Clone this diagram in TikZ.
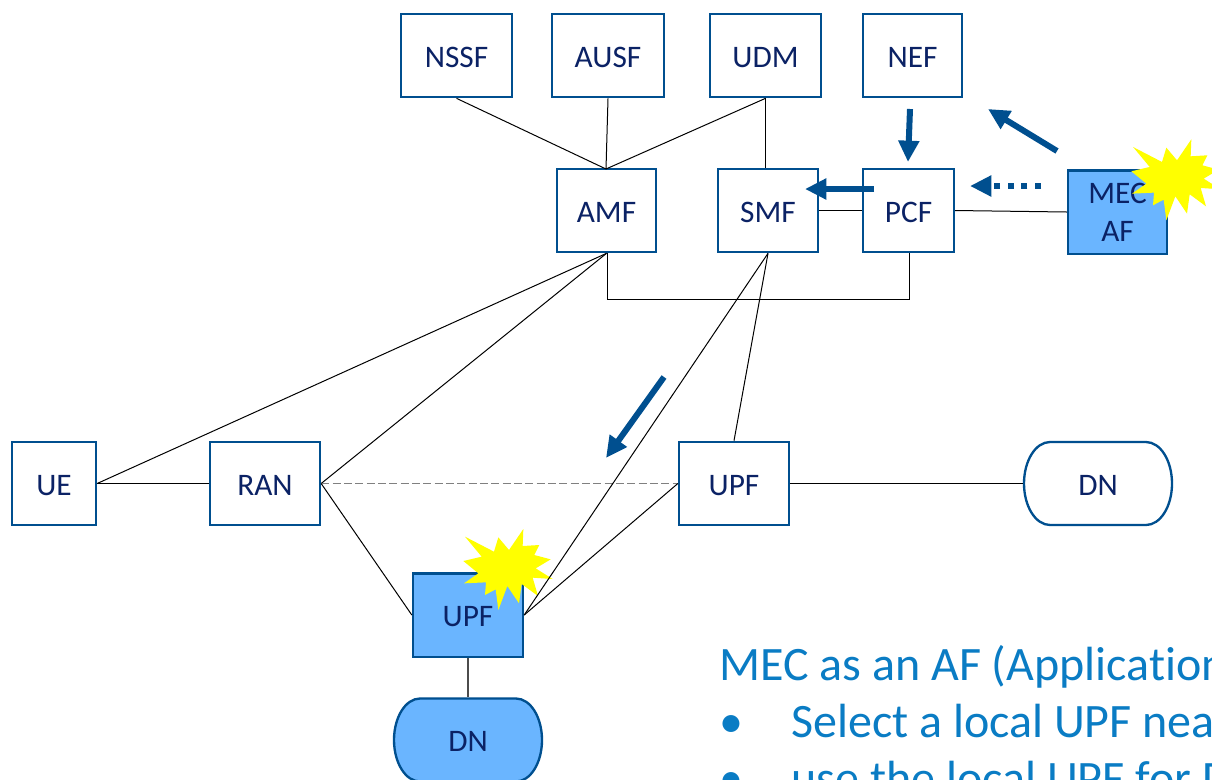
\documentclass[tikz,border=0pt]{standalone}
\usepackage{fontspec}
\setmainfont[Ligatures=NoCommon]{Carlito}
\usetikzlibrary{arrows.meta}
\definecolor{boxline}{HTML}{004F8F}
\definecolor{labeltxt}{HTML}{0B2265}
\definecolor{mecfill}{HTML}{6AB5FF}
\definecolor{notetxt}{HTML}{0A7CC4}
\definecolor{burstyellow}{HTML}{FFFF00}
\tikzset{
  nf/.style={draw=boxline,line width=1.75pt,fill=white,text=labeltxt,font=\fontsize{23.5}{28.5}\selectfont,inner sep=0pt,minimum height=62.5pt,align=center,text height=17.3pt,text depth=0pt},
  mecbox/.style={nf,fill=mecfill},
  dnlabel/.style={nf,draw=none,fill=none,minimum width=111pt},
  dnshape/.style={draw=boxline,line width=1.75pt},
  link/.style={draw=black,line width=0.75pt},
  flow/.style={draw=boxline,line width=4.5pt,-{Triangle[length=16pt,width=15pt]}},
  flowdot/.style={flow,dash pattern=on 4.5pt off 5.75pt},
  burst/.style={fill=burstyellow,draw=none},
  note/.style={text=notetxt,font=\fontsize{36}{42}\selectfont,anchor=base west,inner sep=0pt}
}
\newcommand{\burstshape}{(430,57)--(428,108)--(478,105)--(463,135)--(512,148)--(467,175)--(518,207)--(458,203)--(474,258)--(425,222)--(417,280)--(382,228)--(355,300)--(347,238)--(315,255)--(318,217)--(252,220)--(295,190)--(250,153)--(305,140)--(255,80)--(342,125)--(355,82)--(387,120)--cycle}
\newcommand{\terminator}[1]{++(-48,-41.5) -- ++(96,0) arc[start angle=90,end angle=-90,x radius=19.5pt,y radius=31.125pt] -- ++(-96,0) arc[start angle=-90,end angle=-270,x radius=19.5pt,y radius=31.125pt] -- cycle}
\begin{document}
\begin{tikzpicture}[x=0.75pt,y=-0.75pt]
\useasboundingbox (0,0) rectangle (1212,779);
\clip (0,0) rectangle (1212,779);
\node[nf,minimum width=83.25pt] (nssf) at (456.5,55.5) {NSSF};
\node[nf,minimum width=84pt] (ausf) at (608,55.5) {AUSF};
\node[nf,minimum width=83.25pt] (udm) at (765.5,55.5) {UDM};
\node[nf,minimum width=74.25pt] (nef) at (912.5,55.5) {NEF};
\node[nf,minimum width=74.25pt] (amf) at (606.5,210.5) {AMF};
\node[nf,minimum width=75pt] (smf) at (768,210.5) {SMF};
\node[nf,minimum width=68.25pt] (pcf) at (908.5,210.5) {PCF};
\node[mecbox,minimum width=74.25pt,text height=,text depth=] (mec) at (1117.5,212) {MEC\\AF};
\node[nf,minimum width=63pt] (ue) at (54,483.5) {UE};
\node[nf,minimum width=82.5pt] (ran) at (265,483.5) {RAN};
\node[nf,minimum width=82.5pt] (upf) at (734,483.5) {UPF};
\coordinate (dnc) at (1098,483.5);
\draw[dnshape,fill=white] (dnc) \terminator{};
\node[dnlabel] (dn) at (dnc) {DN};
\node[mecbox,minimum width=82.5pt] (lupf) at (468,615) {UPF};
\coordinate (ldnc) at (468,740);
\draw[dnshape,fill=mecfill] (ldnc) \terminator{};
\node[dnlabel] (ldn) at (ldnc) {DN};
\coordinate (hub) at (606,169);
\draw[link] (nssf.south) -- (hub);
\draw[link] (ausf.south) -- (hub);
\draw[link] (udm.south) -- (hub);
\draw[link] (udm.south) -- (smf.north -| udm.south);
\draw[link] (smf.east) -- (pcf.west);
\draw[link] (pcf.east) -- (mec.west);
\draw[link] (amf.south) ++(1,0) -- ++(0,46.5) -| ([xshift=0.75pt]pcf.south);
\draw[link] (amf.south) -- (ue.east);
\draw[link] (amf.south) -- (ran.east);
\draw[link] (smf.south) -- (upf.north);
\draw[link] (ue.east) -- (ran.west);
\draw[draw=gray,line width=0.75pt,dash pattern=on 6pt off 2.5pt] (ran.east) -- (upf.west);
\draw[link] (upf.east) -- (dn.west);
\draw[link] (ran.east) -- (lupf.west);
\draw[draw=black!70,line width=0.9pt] (lupf.south) -- (ldn.north);
\fill[burst,shift={(380,510)},x=0.25pt,y=-0.25pt] \burstshape;
\fill[burst,shift={(1048,120.3)},x=0.25pt,y=-0.25pt] \burstshape;
\draw[link] (upf.west) -- (lupf.east);
\draw[link] (smf.south) -- (lupf.east);
\coordinate (a1s) at (910,109); \coordinate (a1e) at (908,162);
\coordinate (a2s) at (1057,151); \coordinate (a2e) at (988,109);
\coordinate (a3s) at (1041,186); \coordinate (a3e) at (970,186);
\coordinate (a4s) at (874,189); \coordinate (a4e) at (805,189);
\coordinate (a5s) at (664,377); \coordinate (a5e) at (606,458);
\draw[flow] (a1s) -- (a1e);
\draw[flow] (a2s) -- (a2e);
\draw[flowdot] (a3s) -- (a3e);
\draw[flow] (a4s) -- (a4e);
\draw[flow] (a5s) -- (a5e);
\node[note] (t1) at (719,680) {MEC as an AF (Application};
\node[note] (b1) at (719,737) {•};
\node[note] (t2) at (791,737) {Select a local UPF near};
\node[note] (b2) at (719,794) {•};
\node[note] (t3) at (791,794) {use the local UPF for D};
\end{tikzpicture}
\end{document}
